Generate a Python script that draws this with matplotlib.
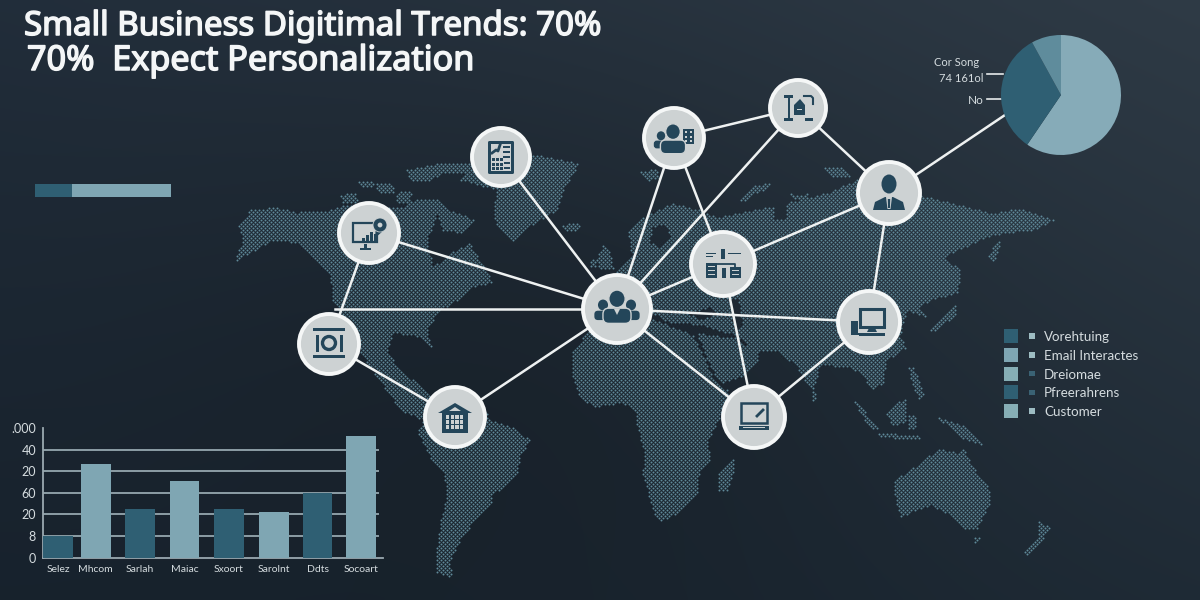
import numpy as np
import matplotlib
matplotlib.use("Agg")
import matplotlib.pyplot as plt
import matplotlib.patheffects as pe
from matplotlib.path import Path
from matplotlib.patches import Circle, Rectangle, Polygon, Ellipse, FancyBboxPatch

# bar chart values, in tick steps
bar_labels = ["Selez", "Mhcom", "Sarlah", "Maiac", "Sxoort", "Sarolnt", "Ddts", "Socoart"]
bar_values = [1.0, 4.32, 2.24, 3.54, 2.24, 2.1, 2.98, 5.62]
bar_x = [58, 95.8, 140, 184.5, 229, 273.7, 317.5, 361]
y_ticks = [0, 1, 2, 3, 4, 5, 6]
y_tick_labels = ["0", "8", "20", "60", "20", "40", ".000"]

pie_values = [59.5, 32.5, 8]
progress_values = [27.5, 72.5]

legend_labels = ["Vorehtuing", "Email Interactes", "Dreiomae", "Pfreerahrens", "Customer"]

DARK = "#2f5f73"
LIGHT = "#7fa6b3"
ICON = "#24465a"
NODE = "#cdd2d3"
TEXT = "#d5dcdf"

# map outlines, pixel coords
land = [
    # north america
    [(238, 227), (250, 210), (273, 207), (297, 212), (330, 210), (343, 205), (403, 207), (417, 198), (437, 198),
     (450, 210), (475, 220), (463, 233), (443, 230), (437, 215), (427, 240), (433, 267), (450, 253), (470, 243),
     (480, 260), (493, 283), (470, 287), (463, 297), (440, 310), (427, 330), (433, 350), (420, 337), (393, 333),
     (387, 350), (400, 370), (417, 383), (430, 397), (423, 420), (400, 410), (363, 357), (343, 317), (333, 300),
     (330, 277), (313, 257), (297, 243), (273, 240), (250, 253), (233, 263), (243, 240)],
    # ellesmere, greenland, iceland
    [(407, 170), (443, 162), (470, 163), (470, 172), (445, 172), (425, 182), (410, 180)],
    [(460, 180), (470, 165), (537, 155), (580, 163), (563, 190), (557, 210), (523, 230), (513, 242), (497, 227),
     (493, 210), (497, 190)],
    [(562, 226), (575, 222), (582, 225), (575, 231), (564, 231)],
    # arctic bits
    [(340, 195), (355, 192), (358, 202), (342, 204)],
    [(358, 182), (372, 180), (374, 186), (360, 188)],
    [(375, 183), (392, 183), (395, 192), (378, 192)],
    [(398, 190), (412, 190), (410, 203), (396, 202)],
    [(640, 172), (655, 168), (660, 178), (646, 181)],
    [(823, 168), (840, 167), (850, 176), (830, 177)],
    [(740, 200), (750, 187), (772, 182), (768, 188), (752, 195), (746, 203)],
    [(790, 193), (800, 196), (812, 192), (806, 198), (795, 200)],
    # uk
    [(596, 258), (603, 245), (610, 250), (613, 268), (600, 270)],
    [(590, 262), (594, 258), (596, 266), (591, 268)],
    # eurasia
    [(602, 300), (606, 285), (620, 268), (632, 257), (628, 233), (643, 217), (673, 203), (700, 210), (717, 217),
     (740, 213), (787, 203), (827, 193), (860, 178), (900, 190), (940, 200), (993, 213), (1020, 208), (1055, 220),
     (1033, 230), (1003, 233), (987, 237), (943, 257), (953, 267), (960, 280), (957, 293), (930, 300), (920, 307),
     (927, 317), (907, 310), (900, 337), (907, 347), (887, 360), (883, 383), (873, 390), (860, 373), (847, 367),
     (820, 365), (813, 393), (797, 367), (777, 350), (757, 352), (735, 335), (700, 325), (668, 322), (650, 312),
     (625, 318)],
    # arabia
    [(697, 333), (735, 338), (757, 352), (757, 360), (740, 377), (720, 383), (707, 360)],
    # africa
    [(573, 350), (587, 333), (610, 320), (650, 318), (693, 335), (705, 360), (713, 377), (727, 390), (727, 403),
     (713, 430), (708, 440), (710, 460), (697, 477), (697, 493), (680, 513), (658, 522), (653, 510), (642, 473),
     (645, 453), (637, 427), (635, 410), (623, 403), (593, 407), (580, 397), (572, 377)],
    [(733, 458), (735, 467), (727, 490), (718, 492), (718, 473), (727, 463)],
    # south america
    [(418, 432), (425, 417), (487, 410), (490, 420), (513, 428), (530, 440), (520, 457), (517, 473), (503, 488),
     (493, 493), (490, 507), (473, 523), (460, 540), (450, 560), (452, 578), (437, 573), (435, 560), (440, 523),
     (447, 493), (443, 473), (430, 457)],
    # australia, tasmania, new zealand
    [(895, 480), (920, 463), (930, 455), (940, 448), (957, 453), (963, 448), (973, 467), (990, 490), (990, 503),
     (977, 528), (963, 528), (947, 513), (930, 505), (900, 517), (895, 497)],
    [(973, 537), (980, 537), (978, 543), (974, 542)],
    [(1038, 520), (1050, 528), (1040, 543), (1027, 557), (1022, 552), (1037, 537)],
    # japan, sakhalin, korea
    [(930, 327), (948, 312), (957, 303), (956, 315), (942, 325), (931, 333)],
    [(987, 257), (1000, 237), (1001, 245), (993, 263)],
    [(955, 262), (961, 270), (958, 282), (954, 275)],
    # indonesia, philippines, new guinea
    [(885, 413), (905, 397), (907, 423), (892, 425)],
    [(852, 400), (858, 402), (877, 428), (870, 428)],
    [(877, 432), (920, 436), (920, 440), (878, 437)],
    [(937, 417), (967, 427), (987, 447), (960, 437)],
    [(908, 367), (914, 368), (924, 393), (920, 402), (912, 385)],
    [(908, 415), (916, 415), (916, 430), (909, 428)],
    [(812, 393), (816, 393), (816, 400), (812, 400)],
]
water = [
    [(652, 228), (664, 224), (670, 236), (660, 248), (650, 242)],
    [(690, 314), (712, 306), (716, 315), (700, 320)],
    [(730, 300), (738, 298), (742, 325), (734, 330)],
    [(773, 197), (787, 197), (785, 218), (775, 218)],
]

# node centres and radii
nodes = {
    "hub": (617, 309, 35), "people": (674, 138, 31), "scan": (798, 108, 29), "man": (889, 193, 32),
    "factory": (723, 264, 33), "monitor": (869, 322, 32), "tablet": (501, 157, 30), "chart": (369, 233, 31),
    "donut": (329, 344, 31), "bank": (455, 417, 31), "laptop": (754, 417, 32),
}
edges = [("hub", "chart"), ("hub", "tablet"), ("chart", "donut"), ("donut", "bank"), ("bank", "hub"),
         ("hub", "people"), ("hub", "scan"), ("hub", "factory"), ("hub", "monitor"), ("people", "factory"),
         ("people", "scan"), ("scan", "man"), ("man", "factory"), ("man", "monitor"), ("factory", "laptop"),
         ("hub", "laptop"), ("monitor", "laptop")]

plt.rcParams['font.family'] = ['Lato', 'DejaVu Sans']

W, H = 1200, 600
fig = plt.figure(figsize=(12, 6), dpi=100)


def px_axes(x0, y0, x1, y1, z=1):
    a = fig.add_axes([x0 / W, 1 - y1 / H, (x1 - x0) / W, (y1 - y0) / H], zorder=z)
    a.patch.set_alpha(0)
    return a


ax = fig.add_axes([0, 0, 1, 1], zorder=0)
ax.set_xlim(0, W)
ax.set_ylim(H, 0)
ax.axis("off")

# background
corners = np.array([[[0x22, 0x2e, 0x3b], [0x2f, 0x3b, 0x46]], [[0x18, 0x23, 0x2e], [0x1f, 0x2b, 0x36]]]) / 255
u = np.linspace(0, 1, 300)[None, :, None]
v = np.linspace(0, 1, 150)[:, None, None]
bg = (corners[0, 0] * (1 - u) + corners[0, 1] * u) * (1 - v) + (corners[1, 0] * (1 - u) + corners[1, 1] * u) * v
yy, xx = np.mgrid[0:150, 0:300]
shade = np.exp(-(((xx - 130) / 110.0) ** 2 + ((yy - 90) / 80.0) ** 2))[:, :, None]
bg = bg * (1 - 0.18 * shade)
ax.imshow(bg, extent=[0, W, H, 0], aspect="auto", zorder=0, interpolation="bilinear")

# dotted map, whole pixel pitch so it does not beat against the raster
gx, gy = np.meshgrid(np.arange(225, 1065, 4.0), np.arange(150, 585, 2.0))
gx = gx + 2 * (np.round(gy / 2) % 2)
pts = np.column_stack([gx.ravel(), gy.ravel()])
inside = np.zeros(len(pts), dtype=bool)
for poly in land:
    inside |= Path(poly + [poly[0]]).contains_points(pts)
for poly in water:
    inside &= ~Path(poly + [poly[0]]).contains_points(pts)
ax.scatter(pts[inside, 0], pts[inside, 1], s=2.0, color="#5f8999", linewidths=0, zorder=1)

# network lines
for a, b in edges:
    ax.plot([nodes[a][0], nodes[b][0]], [nodes[a][1], nodes[b][1]], color="#eef1f1", lw=1.8, zorder=2,
            solid_capstyle="round")
ax.plot([nodes["hub"][0], 335], [309, 309], color="#eef1f1", lw=1.8, zorder=2)
ax.plot([nodes["man"][0], 1005], [nodes["man"][1], 115], color="#eef1f1", lw=1.8, zorder=2)
ax.plot([987, 1003], [74, 74], color="#e6eaeb", lw=1.2, zorder=2)
ax.plot([987, 1001], [99, 99], color="#e6eaeb", lw=1.2, zorder=2)

for cx, cy, r in nodes.values():
    ax.add_patch(Circle((cx, cy), r - 1, facecolor=NODE, edgecolor="#f5f7f7", lw=2.8, zorder=3))


def rect(x, y, w, h, c=ICON):
    ax.add_patch(Rectangle((x, y), w, h, facecolor=c, edgecolor="none", zorder=4))


def box(x, y, w, h, lw=1.6, c=ICON):
    ax.add_patch(Rectangle((x, y), w, h, facecolor="none", edgecolor=c, lw=lw, zorder=4))


def person(cx, cy, s, z=4, edge="none"):
    ax.add_patch(FancyBboxPatch((cx - 12 * s, cy + 1 * s), 24 * s, 13 * s,
                                boxstyle="round,pad=0,rounding_size=%f" % (5 * s),
                                facecolor=ICON, edgecolor=edge, lw=1, zorder=z))
    ax.add_patch(Ellipse((cx, cy - 7 * s), 14 * s, 15 * s, facecolor=ICON, edgecolor=edge, lw=1, zorder=z))


# hub icon
hx, hy, _ = nodes["hub"]
person(hx - 14, hy + 1, 0.72)
person(hx + 14, hy + 1, 0.72)
person(hx, hy - 2, 1.17, z=5, edge=NODE)
ax.add_patch(Polygon([(hx - 3, hy), (hx + 3, hy), (hx, hy + 6)], facecolor=NODE, zorder=6))

# people icon
px_, py_, _ = nodes["people"]
person(px_ - 13, py_ + 2, 0.6)
person(px_ - 1, py_ + 1, 1.05, z=5, edge=NODE)
rect(px_ + 9, py_ - 9, 11, 15)
for dx in (11, 16):
    for dy in (-7, -2, 2):
        rect(px_ + dx, py_ + dy, 2.2, 2.2, NODE)

# scan icon
sx, sy, _ = nodes["scan"]
rect(sx - 14, sy - 13, 9, 2.5)
rect(sx - 10.5, sy - 12, 2.2, 22)
rect(sx - 14, sy + 10, 9, 2.5)
rect(sx + 7, sy + 10, 8, 2.5)
ax.add_patch(Polygon([(sx - 4, sy + 7), (sx - 4, sy - 3), (sx + 2, sy - 9), (sx + 7, sy - 3), (sx + 7, sy + 7)],
                     facecolor=ICON, zorder=4))
rect(sx - 1, sy + 1, 5, 1.2, NODE)
ax.plot([sx + 6, sx + 13, sx + 15, sx + 15], [sy - 12, sy - 12, sy - 10, sy - 4], color=ICON, lw=1.5, zorder=4)

# man icon
mx, my, _ = nodes["man"]
ax.add_patch(Ellipse((mx, my - 9), 15, 19, facecolor=ICON, edgecolor="none", zorder=4))
ax.add_patch(Polygon([(mx - 16, my + 17), (mx - 14, my + 9), (mx - 4, my + 4), (mx + 4, my + 4), (mx + 14, my + 9),
                      (mx + 16, my + 17)], facecolor=ICON, zorder=4))
ax.add_patch(Polygon([(mx - 3, my + 4), (mx + 3, my + 4), (mx + 1.5, my + 16), (mx - 1.5, my + 16)],
                     facecolor=NODE, zorder=5))
ax.add_patch(Polygon([(mx - 1.2, my + 6), (mx + 1.2, my + 6), (mx + 1, my + 15), (mx - 1, my + 15)],
                     facecolor=ICON, zorder=6))

# factory icon
fx, fy, _ = nodes["factory"]
rect(fx - 17, fy - 1, 11, 15)
rect(fx - 1, fy + 4, 4, 10)
rect(fx - 2, fy - 15, 4, 10)
rect(fx + 7, fy + 3, 11, 11)
rect(fx - 17, fy - 11, 10, 1.3)
rect(fx - 17, fy - 8, 7, 1.3)
rect(fx + 5, fy - 11, 13, 1.3)
ax.plot([fx - 6, fx + 12, fx + 12], [fy, fy, fy + 3], color=ICON, lw=1.3, zorder=4)
for dy in (2, 6, 10):
    rect(fx - 15, fy + dy, 7, 1.2, NODE)
for dy in (6, 10):
    rect(fx + 9, fy + dy, 7, 1.2, NODE)

# monitor icon
nx, ny, _ = nodes["monitor"]
rect(nx - 18, ny - 1, 7, 12)
rect(nx - 18, ny + 11, 9, 2)
box(nx - 9, ny - 13, 24, 18, lw=2.2)
ax.add_patch(Polygon([(nx, ny + 6), (nx + 6, ny + 6), (nx + 8, ny + 10), (nx - 2, ny + 10)], facecolor=ICON, zorder=4))
rect(nx - 10, ny + 11, 26, 2.5)

# tablet icon
tx, ty, _ = nodes["tablet"]
ax.add_patch(FancyBboxPatch((tx - 13, ty - 16), 26, 33, boxstyle="round,pad=0,rounding_size=1.5", facecolor=ICON,
                            edgecolor="none", zorder=4))
ax.add_patch(Rectangle((tx - 10, ty - 13), 20, 27, facecolor=NODE, zorder=4.5))
ax.plot([tx - 9, tx - 5, tx - 3, tx - 1], [ty - 4, ty - 7, ty - 6, ty - 12], color=ICON, lw=2, zorder=5)
for dy in (-11, -6, -1):
    ax.add_patch(Rectangle((tx + 2, ty + dy), 7, 1.6, facecolor=ICON, zorder=5))
for dy in (1, 6, 10):
    for dx in (-9, -5, -1):
        ax.add_patch(Rectangle((tx + dx, ty + dy), 3, 3, facecolor=ICON, zorder=5))
for dy in (5, 10):
    ax.add_patch(Rectangle((tx + 3, ty + dy), 6, 1.6, facecolor=ICON, zorder=5))

# chart icon
cx_, cy_, _ = nodes["chart"]
box(cx_ - 16, cy_ - 10, 24, 19, lw=1.6)
for dx, h in zip((-7, -3, 1, 5), (3, 6, 9, 7)):
    rect(cx_ + dx, cy_ + 8 - h, 2.8, h)
rect(cx_ - 5, cy_ + 11, 3, 4)
rect(cx_ - 9, cy_ + 15, 11, 1.6)
ax.add_patch(Polygon([(cx_ + 6, cy_ + 5), (cx_ + 7, cy_ - 6), (cx_ + 14, cy_ - 2)], facecolor=ICON, zorder=4))
ax.add_patch(Circle((cx_ + 11, cy_ - 8), 7, facecolor=ICON, edgecolor=NODE, lw=0.6, zorder=5))
ax.add_patch(Circle((cx_ + 11, cy_ - 8), 2.4, facecolor=NODE, edgecolor="none", zorder=6))

# donut icon
dx_, dy_, _ = nodes["donut"]
rect(dx_ - 16, dy_ - 16, 32, 3)
rect(dx_ - 16, dy_ + 11, 32, 3)
rect(dx_ - 13, dy_ - 9, 2.5, 17)
rect(dx_ + 11, dy_ - 9, 2.5, 17)
ax.add_patch(Circle((dx_, dy_ - 1), 6.5, facecolor="none", edgecolor=ICON, lw=2.4, zorder=4))

# bank icon
bx, by, _ = nodes["bank"]
rect(bx - 13, by - 5, 26, 21)
ax.add_patch(Polygon([(bx - 17, by - 4), (bx, by - 14), (bx + 17, by - 4)], facecolor=ICON, zorder=4))
ax.add_patch(Polygon([(bx - 6, by - 6), (bx, by - 10), (bx + 6, by - 6)], facecolor=NODE, zorder=5))
for i in range(4):
    for j in range(3):
        ax.add_patch(Rectangle((bx - 9 + i * 4.6, by - 2 + j * 5), 3.4, 3.6, facecolor=NODE, zorder=5))

# laptop icon
lx, ly, _ = nodes["laptop"]
box(lx - 13, ly - 14, 26, 20, lw=1.8)
rect(lx - 15, ly + 9, 30, 4)
ax.add_patch(Rectangle((lx - 11, ly + 10.2), 22, 1.2, facecolor=NODE, zorder=5))
ax.plot([lx + 3, lx + 9], [ly - 1, ly - 7], color=ICON, lw=2, zorder=4)

# title, stroked to get the heavy weight
title_font = ['Noto Sans', 'DejaVu Sans']
heavy = [pe.withStroke(linewidth=1.1, foreground="#f4f6f7")]
ax.text(24, 35, "Small Business Digitimal Trends: 70%", color="#f4f6f7", fontsize=23.8,
        family=title_font, va="baseline", zorder=6, path_effects=heavy)
ax.text(27, 70, "70%  Expect Personalization", color="#f4f6f7", fontsize=24.6,
        family=title_font, va="baseline", zorder=6, path_effects=heavy)

# progress bar
pax = px_axes(34.7, 184, 170.7, 197)
pax.barh([0], [progress_values[0]], left=0, height=1, color=DARK)
pax.barh([0], [progress_values[1]], left=progress_values[0], height=1, color=LIGHT)
pax.set_xlim(0, sum(progress_values))
pax.set_ylim(-0.5, 0.5)
pax.axis("off")

# pie
pie_ax = px_axes(1001, 35, 1121, 155)
pie_ax.pie(pie_values, colors=["#86abb8", "#2f5f73", "#5f8c9c"], startangle=90, counterclock=False, radius=1)
pie_ax.set_xlim(-1, 1)
pie_ax.set_ylim(-1, 1)
ax.text(957, 63, "Cor Song", color=TEXT, fontsize=8, ha="center", va="center", zorder=6)
ax.text(961, 78, "74 161ol", color=TEXT, fontsize=8, ha="center", va="center", zorder=6)
ax.text(976, 100, "No", color=TEXT, fontsize=8.5, ha="center", va="center", zorder=6)

# legend
legend_big = [DARK, LIGHT, "#86aeb5", DARK, "#86aeb5"]
legend_small = ["#9dbcc2", "#9dbcc2", "#3a6274", "#3a6274", "#9dbcc2"]
for i, lab in enumerate(legend_labels):
    yc = 336 + i * 18.8
    ax.add_patch(Rectangle((1004, yc - 7), 14, 14, facecolor=legend_big[i], edgecolor="none", zorder=4))
    ax.add_patch(Rectangle((1029, yc - 2.8), 5.6, 5.6, facecolor=legend_small[i], edgecolor="none", zorder=4))
    ax.text(1044, yc + 1, lab, color=TEXT, fontsize=9.6, va="center", zorder=6)

# bar chart
bax = px_axes(43, 428, 383, 557.7, z=2)
bax.set_xlim(43, 383)
bax.set_ylim(0, 6)
colors = [DARK if i % 2 == 0 else LIGHT for i in range(len(bar_values))]
bax.bar(bar_x, bar_values, width=29.7, color=colors, zorder=3)
for t in y_ticks[1:-1]:
    bax.plot([43, 378], [t, t], color="#8d9ea6", lw=1.4, zorder=2)
bax.set_yticks(y_ticks)
bax.set_yticklabels(y_tick_labels, color=TEXT, fontsize=9)
bax.set_xticks(bar_x)
bax.set_xticklabels(bar_labels, color=TEXT, fontsize=7.5)
bax.tick_params(axis="both", length=0, pad=5)
for side in ("top", "right"):
    bax.spines[side].set_visible(False)
for side in ("left", "bottom"):
    bax.spines[side].set_color("#9aa9b0")
    bax.spines[side].set_linewidth(1.3)

fig.savefig("out.png", dpi=100, facecolor="#1b2631")
